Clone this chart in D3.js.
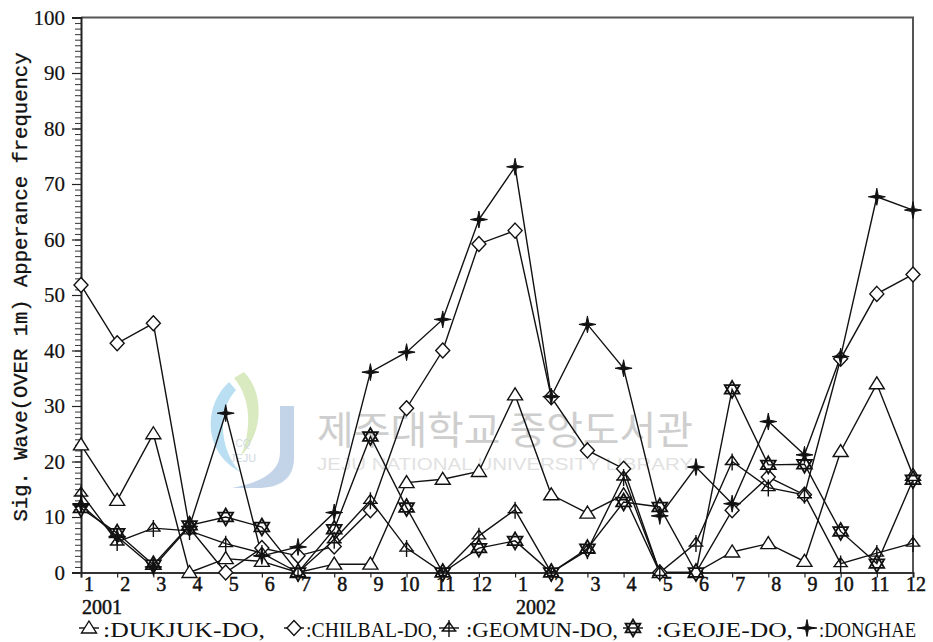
<!DOCTYPE html>
<html>
<head>
<meta charset="utf-8">
<script src="https://cdn.jsdelivr.net/npm/d3@7/dist/d3.min.js"></script>
<style>
  body { margin: 0; background: #fff; }
  svg { display: block; }
</style>
</head>
<body>
<svg id="chart" width="933" height="642"></svg>
<script>
// Monthly appearance frequency of significant waves over 1 m, Jan 2001 – Dec 2002
const monthLabels = ["1","2","3","4","5","6","7","8","9","10","11","12",
                     "1","2","3","4","5","6","7","8","9","10","11","12"];
const yearLabels = ["2001", "2002"];
const yTickValues = [0, 10, 20, 30, 40, 50, 60, 70, 80, 90, 100];

const dukjuk  = [23, 13, 25, 0, 2.5, 2, 0, 1.5, 1.5, 16.2, 16.8, 18.2,
                 32, 14, 10.7, 14, 0, 0, 3.7, 5.2, 2, 21.8, 34, 17.5];
const chilbal = [51.8, 41.3, 44.9, 8, 0, 4.4, 3, 4.7, 11.2, 29.6, 40, 59.2,
                 61.6, 31.6, 22, 18.7, 0, 0, 11.2, 17.2, 14, 38.5, 50.2, 53.7];
const geomun  = [14.3, 5.5, 8, 7.5, 5.2, 3.5, 0, 5.9, 13, 4.4, 0, 6.6,
                 11.3, 0, 4, 17.2, 0, 5.3, 20, 15.3, 14, 1.6, 3.5, 5.3];
const geoje   = [11.6, 7.1, 1.4, 8.5, 10, 8.2, 0, 7.8, 24.5, 11.7, 0, 4.4,
                 5.7, 0, 4.3, 12.7, 11.8, 0, 33, 19.4, 19.5, 7.4, 1.6, 16.7];
const donghae = [12.2, 6.5, 1, 8.3, 28.7, 3, 4.6, 10.8, 36.1, 39.7, 45.6, 63.6,
                 73.1, 31.7, 44.7, 36.8, 10.2, 19, 12.4, 27.2, 21.2, 38.9, 67.7, 65.3];

const seriesNames = ["DUKJUK-DO", "CHILBAL-DO", "GEOMUN-DO", "GEOJE-DO", "DONGHAE"];
const seriesValues = [dukjuk, chilbal, geomun, geoje, donghae];

// marker glyphs, centred on the data point
const markerPaths = {
  "DUKJUK-DO":  "M0,-7 L7.5,5 L-7.5,5 Z",
  "CHILBAL-DO": "M0,-7.5 L7,0 L0,7.5 L-7,0 Z",
  "GEOMUN-DO":  "M-6.5,3 L0,-6 L6.5,3 Z M0,-8 V9 M-7.5,3 H7.5",
  "GEOJE-DO":   "M0,-8.5 L7.4,4.3 L-7.4,4.3 Z M0,8.5 L7.4,-4.3 L-7.4,-4.3 Z",
  "DONGHAE":    "M0,-8.5 L1.4,-1.4 L8.5,0 L1.4,1.4 L0,8.5 L-1.4,1.4 L-8.5,0 L-1.4,-1.4 Z"
};
const markerFill = {
  "DUKJUK-DO": "#fff", "CHILBAL-DO": "#fff", "GEOMUN-DO": "none",
  "GEOJE-DO": "#fff", "DONGHAE": "#111"
};
const markerStroke = {
  "DUKJUK-DO": 1.4, "CHILBAL-DO": 1.4, "GEOMUN-DO": 1.4, "GEOJE-DO": 1.8, "DONGHAE": 1
};

const svg = d3.select("#chart");
const plotLeft = 81, plotRight = 913, plotTop = 17.5, plotBottom = 572.5;

const x = d3.scaleLinear().domain([0, monthLabels.length - 1]).range([plotLeft, plotRight]);
const y = d3.scaleLinear().domain([0, 100]).range([plotBottom, plotTop]);

// ---- faint library watermark behind the plot ----
const wm = svg.append("g").attr("opacity", 0.85);
wm.append("path")
  .attr("d", "M244,372 C264,392 264,432 241,456 C252,428 251,398 234,378 Z")
  .attr("fill", "#d3e6b6");
wm.append("path")
  .attr("d", "M229,382 C203,406 203,452 240,472 C219,449 217,410 236,390 Z")
  .attr("fill", "#aedaf1");
wm.append("path")
  .attr("d", "M280,406 H294 V458 C294,480 278,488 258,488 H232 C262,482 280,472 280,452 Z")
  .attr("fill", "#b9cde6");
wm.append("text").attr("x", 243).attr("y", 447).attr("text-anchor", "middle")
  .attr("font-family", "Liberation Sans").attr("font-size", 10).attr("fill", "#c9d3dc")
  .text("CQ");
wm.append("text").attr("x", 243).attr("y", 462).attr("text-anchor", "middle")
  .attr("font-family", "Liberation Sans").attr("font-size", 11).attr("fill", "#c9d3dc")
  .text("JEJU");
wm.append("text").attr("x", 317).attr("y", 444)
  .attr("font-family", "Noto Sans CJK KR").attr("font-size", 39)
  .attr("textLength", 376).attr("lengthAdjust", "spacingAndGlyphs")
  .attr("fill", "#c6c6c6").text("제주대학교 중앙도서관");
wm.append("text").attr("x", 317).attr("y", 470)
  .attr("font-family", "Liberation Sans").attr("font-size", 17)
  .attr("textLength", 376).attr("lengthAdjust", "spacingAndGlyphs")
  .attr("fill", "#dcdcdc").text("JEJU NATIONAL UNIVERSITY LIBRARY");

// ---- frame ----
svg.append("path")
  .attr("d", `M${plotLeft},${plotTop} H${plotRight} V${plotBottom}`)
  .attr("fill", "none").attr("stroke", "#555").attr("stroke-width", 2);

// ---- y axis: minor ticks every unit, labelled major ticks every ten ----
const yMinor = d3.axisLeft(y).tickValues(d3.range(0, 101, 1)).tickSize(6).tickFormat("");
svg.append("g").attr("transform", `translate(${plotLeft},0)`).call(yMinor)
  .call(g => g.select(".domain").remove())
  .call(g => g.selectAll("line").attr("stroke", "#333").attr("stroke-width", 1));

const yMajor = d3.axisLeft(y).tickValues(yTickValues).tickSize(9).tickPadding(7)
  .tickFormat(d3.format("d"));
svg.append("g").attr("transform", `translate(${plotLeft},0)`).call(yMajor)
  .call(g => g.select(".domain").attr("stroke", "#222").attr("stroke-width", 2))
  .call(g => g.selectAll("line").attr("stroke", "#222").attr("stroke-width", 1.2))
  .call(g => g.selectAll("text")
    .attr("font-family", "Liberation Serif").attr("font-size", 21).attr("fill", "#111")
    .attr("stroke", "#111").attr("stroke-width", 0.2));

// ---- x axis ----
const xAxis = d3.axisBottom(x).tickValues(d3.range(monthLabels.length)).tickSize(5).tickFormat("");
svg.append("g").attr("transform", `translate(0,${plotBottom})`).call(xAxis)
  .call(g => g.select(".domain").attr("stroke", "#333").attr("stroke-width", 2))
  .call(g => g.selectAll("line").attr("stroke", "#222").attr("stroke-width", 1.2));

svg.append("g").selectAll("text").data(monthLabels).join("text")
  .attr("x", (d, i) => x(i) + (d.length === 1 ? 8 : 3))
  .attr("y", 591)
  .attr("text-anchor", "middle")
  .attr("font-family", "Liberation Serif").attr("font-size", 20)
  .attr("fill", "#111").attr("stroke", "#111").attr("stroke-width", 0.5)
  .text(d => d);

svg.append("g").selectAll("text").data(yearLabels).join("text")
  .attr("x", (d, i) => x(i * 12) + 1)
  .attr("y", 614)
  .attr("font-family", "Liberation Serif").attr("font-size", 20)
  .attr("fill", "#111").attr("stroke", "#111").attr("stroke-width", 0.5)
  .text(d => d);

// ---- y axis title ----
svg.append("text")
  .attr("transform", "translate(27,287) rotate(-90)")
  .attr("text-anchor", "middle")
  .attr("font-family", "Liberation Mono").attr("font-size", 20)
  .attr("textLength", 469).attr("lengthAdjust", "spacingAndGlyphs")
  .attr("fill", "#111").attr("stroke", "#111").attr("stroke-width", 0.3)
  .text("Sig. Wave(OVER 1m) Apperance frequency");

// ---- series lines ----
const line = d3.line().x((d, i) => x(i)).y(d => y(d));
const plot = svg.append("g");
seriesValues.forEach((vals) => {
  plot.append("path").datum(vals)
    .attr("d", line)
    .attr("fill", "none").attr("stroke", "#111").attr("stroke-width", 1.4);
});

// ---- markers ----
seriesValues.forEach((vals, k) => {
  const name = seriesNames[k];
  plot.append("g").selectAll("path").data(vals).join("path")
    .attr("transform", (d, i) => `translate(${x(i)},${y(d)})`)
    .attr("d", markerPaths[name])
    .attr("fill", markerFill[name])
    .attr("stroke", "#111")
    .attr("stroke-width", markerStroke[name]);
});

// ---- legend ----
const legendLayout = [
  { mx: 89,  tx: 103, tw: 162 },
  { mx: 294, tx: 306, tw: 131 },
  { mx: 449, tx: 466, tw: 152 },
  { mx: 633, tx: 656, tw: 137 },
  { mx: 807, tx: 819, tw: 97 }
];
const ly = 628;
const legend = svg.append("g");
seriesNames.forEach((name, k) => {
  const p = legendLayout[k];
  legend.append("line")
    .attr("x1", p.mx - 10).attr("x2", p.mx + 10).attr("y1", ly).attr("y2", ly)
    .attr("stroke", "#111").attr("stroke-width", 1.4);
  legend.append("path")
    .attr("transform", `translate(${p.mx},${ly})`)
    .attr("d", markerPaths[name])
    .attr("fill", markerFill[name]).attr("stroke", "#111")
    .attr("stroke-width", markerStroke[name]);
  legend.append("text")
    .attr("x", p.tx).attr("y", 637)
    .attr("font-family", "Liberation Serif").attr("font-size", 22)
    .attr("textLength", p.tw).attr("lengthAdjust", "spacingAndGlyphs")
    .attr("fill", "#111")
    .text(":" + name + (k < seriesNames.length - 1 ? "," : ""));
});
</script>
</body>
</html>
